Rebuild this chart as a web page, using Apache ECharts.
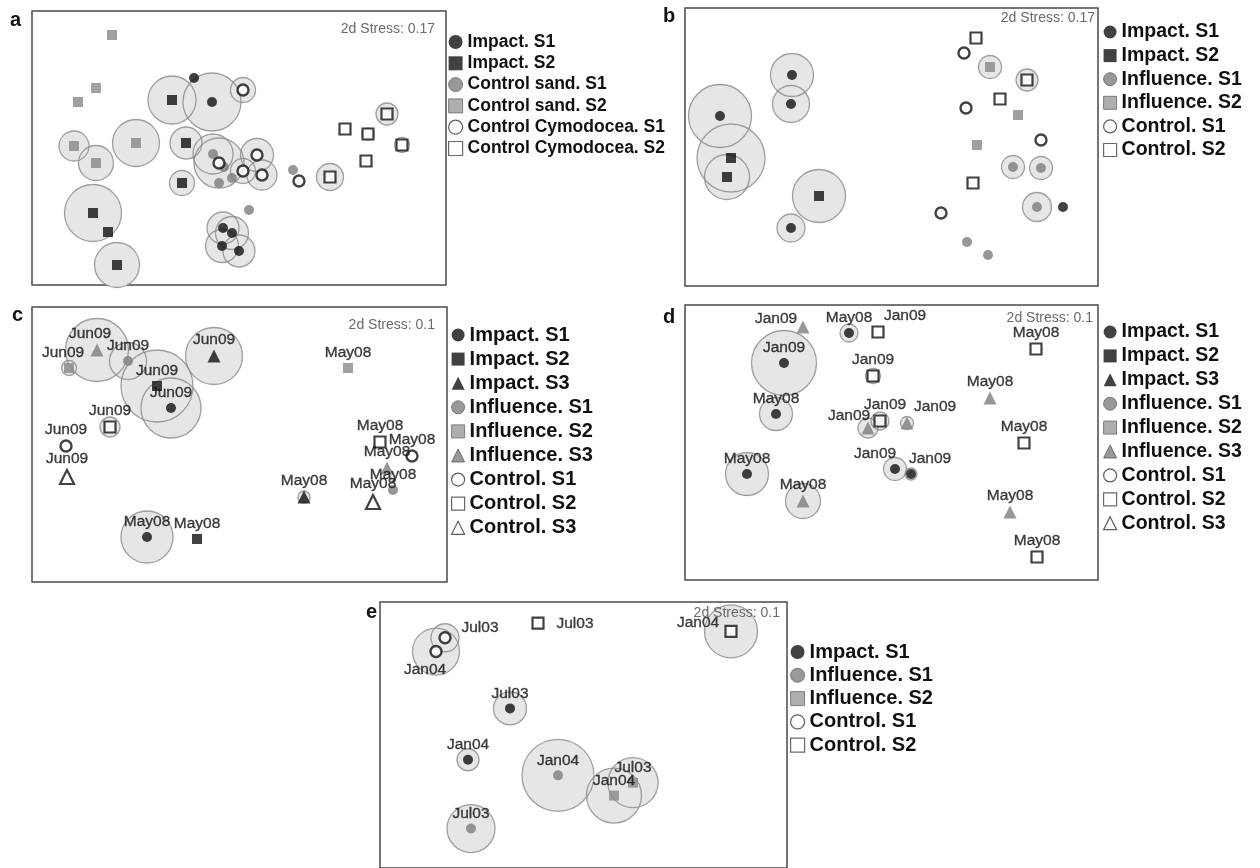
<!DOCTYPE html>
<html>
<head>
<meta charset="utf-8">
<script src="https://cdn.jsdelivr.net/npm/echarts@6/dist/echarts.min.js"></script>
<style>
html,body{margin:0;padding:0;background:#fff;}
#chart{width:1260px;height:868px;}
</style>
</head>
<body>
<div id="chart"></div>
<script>
// ---- DATA: [x, y, bubble diameter (0 = none), label] in ordination units per panel ----
// Panel a
const aImpactS1 = [[162,67,0],[180,91,58],[191,217,32],[200,222,33],[190,235,33],[207,240,32]];
const aImpactS2 = [[140,89,48],[154,132,32],[150,172,25],[61,202,57],[76,221,0],[85,254,45]];
const aSandS1   = [[181,143,40],[192,156,0],[200,167,0],[187,172,0],[217,199,0],[261,159,0]];
const aSandS2   = [[80,24,0],[64,77,0],[46,91,0],[42,135,30],[64,152,35],[104,132,47]];
const aCymS1    = [[211,79,25],[225,144,33],[211,160,25],[230,164,30],[187,152,50],[267,170,0]];
const aCymS2    = [[298,166,27],[313,118,0],[336,123,12],[334,150,0],[355,103,22],[370,134,15]];
// Panel b
const bImpactS1 = [[107,67,43],[106,96,37],[35,108,63],[106,220,28],[378,199,0]];
const bImpactS2 = [[46,150,68],[42,169,45],[134,188,53]];
const bInflS1   = [[328,159,23],[356,160,23],[352,199,29],[282,234,0],[303,247,0]];
const bInflS2   = [[305,59,23],[333,107,0],[292,137,0]];
const bCtlS1    = [[279,45,0],[281,100,0],[356,132,0],[256,205,0]];
const bCtlS2    = [[291,30,0],[342,72,22],[315,91,0],[288,175,0]];
// Panel c
const cImpactS1 = [[139,101,60,'Jun09'],[115,230,52,'May08']];
const cImpactS2 = [[125,79,72,'Jun09'],[165,232,0,'May08']];
const cImpactS3 = [[182,49,57,'Jun09'],[272,190,12,'May08']];
const cInflS1   = [[96,54,37,'Jun09'],[361,183,0,'May08']];
const cInflS2   = [[37,61,15,'Jun09'],[316,61,0,'May08']];
const cInflS3   = [[65,43,63,'Jun09'],[355,161,0,'May08']];
const cCtlS1    = [[34,139,0,'Jun09'],[380,149,0,'May08']];
const cCtlS2    = [[78,120,20,'Jun09'],[348,135,0,'May08']];
const cCtlS3    = [[35,170,0,'Jun09'],[341,195,0,'May08']];
// Panel d
const dImpactS1 = [[99,58,65,'Jan09'],[91,109,33,'May08'],[62,169,43,'May08'],[164,28,18,'May08'],[210,164,23,'Jan09'],[226,169,12,'Jan09']];
const dImpactS2 = [];
const dImpactS3 = [];
const dInflS1   = [];
const dInflS2   = [];
const dInflS3   = [[118,22,0,'Jan09'],[183,123,20,'Jan09'],[118,196,35,'May08'],[305,93,0,'May08'],[325,207,0,'May08'],[222,118,13,'Jan09']];
const dCtlS1    = [];
const dCtlS2    = [[193,27,0,'Jan09'],[188,71,15,'Jan09'],[195,116,18,'Jan09'],[351,44,0,'May08'],[339,138,0,'May08'],[352,252,0,'May08']];
const dCtlS3    = [];
// Panel e
const eImpactS1 = [[130,116,33,'Jul03'],[88,172,22,'Jan04']];
const eInflS1   = [[178,189,72,'Jan04'],[91,247,48,'Jul03']];
const eInflS2   = [[234,211,55,'Jan04'],[253,197,50,'Jul03']];
const eCtlS1    = [[65,39,28,'Jul03'],[56,54,47,'Jan04']];
const eCtlS2    = [[158,23,0,'Jul03'],[351,32,53,'Jan04']];

const stressA = '2d Stress: 0.17', stressB = '2d Stress: 0.17', stressC = '2d Stress: 0.1', stressD = '2d Stress: 0.1', stressE = '2d Stress: 0.1';

// ---- STYLES ----
const FONT = '"Liberation Sans", Arial, Helvetica, sans-serif';
const STYLE = {
  impS1:{symbol:'circle',size:10,item:{color:'#111'},legend:{color:'#111'}},
  impS2:{symbol:'rect',size:10,item:{color:'#111'},legend:{color:'#111'}},
  impS3:{symbol:'triangle',size:13,item:{color:'#111'},legend:{color:'#111'}},
  infS1:{symbol:'circle',size:10,item:{color:'#7d7d7d'},legend:{color:'#808080',borderColor:'#666',borderWidth:1}},
  infS2:{symbol:'rect',size:10,item:{color:'#888'},legend:{color:'#9a9a9a',borderColor:'#666',borderWidth:1}},
  infS3:{symbol:'triangle',size:13,item:{color:'#7d7d7d'},legend:{color:'#808080',borderColor:'#555',borderWidth:1}},
  ctlS1:{symbol:'circle',size:11,item:{color:'#fff',borderColor:'#111',borderWidth:2.4},legend:{color:'#fff',borderColor:'#333',borderWidth:1.2}},
  ctlS2:{symbol:'rect',size:11,item:{color:'#fff',borderColor:'#111',borderWidth:2.2},legend:{color:'#fff',borderColor:'#444',borderWidth:1.2}},
  ctlS3:{symbol:'triangle',size:14,item:{color:'#fff',borderColor:'#111',borderWidth:2.2},legend:{color:'#fff',borderColor:'#333',borderWidth:1.2}}
};

// label nudges (pixel offsets) for crowded labels
const labelNudge = {
  'd|Influence. S3|0':[-27,8], 'd|Control. S2|0':[27,0], 'd|Influence. S3|5':[28,0],
  'd|Influence. S3|1':[-19,4], 'd|Impact. S1|4':[-20,0], 'd|Impact. S1|5':[19,0], 'd|Control. S2|2':[5,0],
  'e|Control. S1|0':[35,7], 'e|Control. S1|1':[-11,35], 'e|Control. S2|0':[37,17], 'e|Control. S2|1':[-33,8],
  'c|Influence. S3|0':[-7,0], 'c|Influence. S2|0':[-6,0]
};

const panels = [
  {id:'a', grid:{left:32,top:11,width:414,height:274}, stress:stressA, stressPos:{right:825,top:22}, letterPos:{left:10,top:10},
   legend:{left:448,top:33,size:14,font:17.5,lh:18,gap:3.3},
   series:[['Impact. S1','impS1',aImpactS1],['Impact. S2','impS2',aImpactS2],['Control sand. S1','infS1',aSandS1],
           ['Control sand. S2','infS2',aSandS2],['Control Cymodocea. S1','ctlS1',aCymS1],['Control Cymodocea. S2','ctlS2',aCymS2]]},
  {id:'b', grid:{left:685,top:8,width:413,height:278}, stress:stressB, stressPos:{right:165,top:11}, letterPos:{left:663,top:6},
   legend:{left:1103,top:22,size:13,font:19.5,lh:20,gap:3.6},
   series:[['Impact. S1','impS1',bImpactS1],['Impact. S2','impS2',bImpactS2],['Influence. S1','infS1',bInflS1],
           ['Influence. S2','infS2',bInflS2],['Control. S1','ctlS1',bCtlS1],['Control. S2','ctlS2',bCtlS2]]},
  {id:'c', grid:{left:32,top:307,width:415,height:275}, stress:stressC, stressPos:{right:825,top:318}, letterPos:{left:12,top:305},
   legend:{left:451,top:325,size:13,font:20,lh:20,gap:4.1},
   series:[['Impact. S1','impS1',cImpactS1],['Impact. S2','impS2',cImpactS2],['Impact. S3','impS3',cImpactS3],
           ['Influence. S1','infS1',cInflS1],['Influence. S2','infS2',cInflS2],['Influence. S3','infS3',cInflS3],
           ['Control. S1','ctlS1',cCtlS1],['Control. S2','ctlS2',cCtlS2],['Control. S3','ctlS3',cCtlS3]]},
  {id:'d', grid:{left:685,top:305,width:413,height:275}, stress:stressD, stressPos:{right:167,top:311}, letterPos:{left:663,top:307},
   legend:{left:1103,top:322,size:13,font:19.5,lh:20,gap:3.9},
   series:[['Impact. S1','impS1',dImpactS1],['Impact. S2','impS2',dImpactS2],['Impact. S3','impS3',dImpactS3],
           ['Influence. S1','infS1',dInflS1],['Influence. S2','infS2',dInflS2],['Influence. S3','infS3',dInflS3],
           ['Control. S1','ctlS1',dCtlS1],['Control. S2','ctlS2',dCtlS2],['Control. S3','ctlS3',dCtlS3]]},
  {id:'e', grid:{left:380,top:602,width:407,height:290}, stress:stressE, stressPos:{right:480,top:606}, letterPos:{left:366,top:602},
   legend:{left:790,top:642,size:14,font:20,lh:20,gap:3.3},
   series:[['Impact. S1','impS1',eImpactS1],['Influence. S1','infS1',eInflS1],['Influence. S2','infS2',eInflS2],
           ['Control. S1','ctlS1',eCtlS1],['Control. S2','ctlS2',eCtlS2]]}
];

const option = {backgroundColor:'#fff', animation:false, grid:[], xAxis:[], yAxis:[], series:[], legend:[], title:[]};

panels.forEach((p, gi) => {
  option.grid.push(Object.assign({show:true, borderColor:'#4a4a4a', borderWidth:1.5, backgroundColor:'transparent'}, p.grid));
  option.xAxis.push({type:'value', gridIndex:gi, min:0, max:p.grid.width, show:false});
  option.yAxis.push({type:'value', gridIndex:gi, min:0, max:p.grid.height, inverse:true, show:false});
  option.title.push({text:p.id, left:p.letterPos.left, top:p.letterPos.top, padding:0,
    textStyle:{fontFamily:FONT, fontSize:20, fontWeight:'bold', color:'#111'}});
  option.title.push(Object.assign({text:p.stress, padding:0,
    textStyle:{fontFamily:FONT, fontSize:14, fontWeight:'normal', color:'#6a6a6a'}}, p.stressPos));

  // bubbles: fills then outlines
  const bubbles = [];
  p.series.forEach(s => s[2].forEach(v => { if (v[2] > 0) bubbles.push([v[0], v[1], v[2]]); }));
  option.series.push({type:'scatter', xAxisIndex:gi, yAxisIndex:gi, z:1, silent:true, data:bubbles,
    symbol:'circle', symbolSize:v => v[2], itemStyle:{color:'#e6e6e6', opacity:1}});
  option.series.push({type:'scatter', xAxisIndex:gi, yAxisIndex:gi, z:2, silent:true, data:bubbles,
    symbol:'circle', symbolSize:v => v[2], itemStyle:{color:'rgba(0,0,0,0)', borderColor:'#8a8a8a', borderWidth:1.3}});

  const legendData = [];
  p.series.forEach(s => {
    const [name, kind, arr] = s;
    const st = STYLE[kind];
    const full = name + '|' + p.id;
    legendData.push({name:full, icon:st.symbol, itemStyle:st.legend});
    option.series.push({
      type:'scatter', name:full, xAxisIndex:gi, yAxisIndex:gi, z:3,
      symbol:st.symbol, symbolSize:st.size, itemStyle:st.item,
      label:{show:true, position:'top', distance:2, fontFamily:FONT, fontSize:15.5, color:'#111',
             textBorderColor:'#111', textBorderWidth:0.35,
             formatter:prm => prm.value[3] || ''},
      data:arr.map((v, i) => {
        const item = {value:v};
        const nud = labelNudge[p.id + '|' + name + '|' + i];
        if (nud) item.label = {offset:nud};
        return item;
      })
    });
  });
  option.legend.push({
    orient:'vertical', left:p.legend.left, top:p.legend.top, padding:0, selectedMode:false,
    itemWidth:p.legend.size, itemHeight:p.legend.size, itemGap:p.legend.gap,
    textStyle:{fontFamily:FONT, fontSize:p.legend.font, fontWeight:'bold', color:'#111', lineHeight:p.legend.lh},
    formatter:n => n.split('|')[0],
    data:legendData
  });
});

const chart = echarts.init(document.getElementById('chart'), null, {renderer:'canvas'});
chart.setOption(option);
</script>
</body>
</html>
